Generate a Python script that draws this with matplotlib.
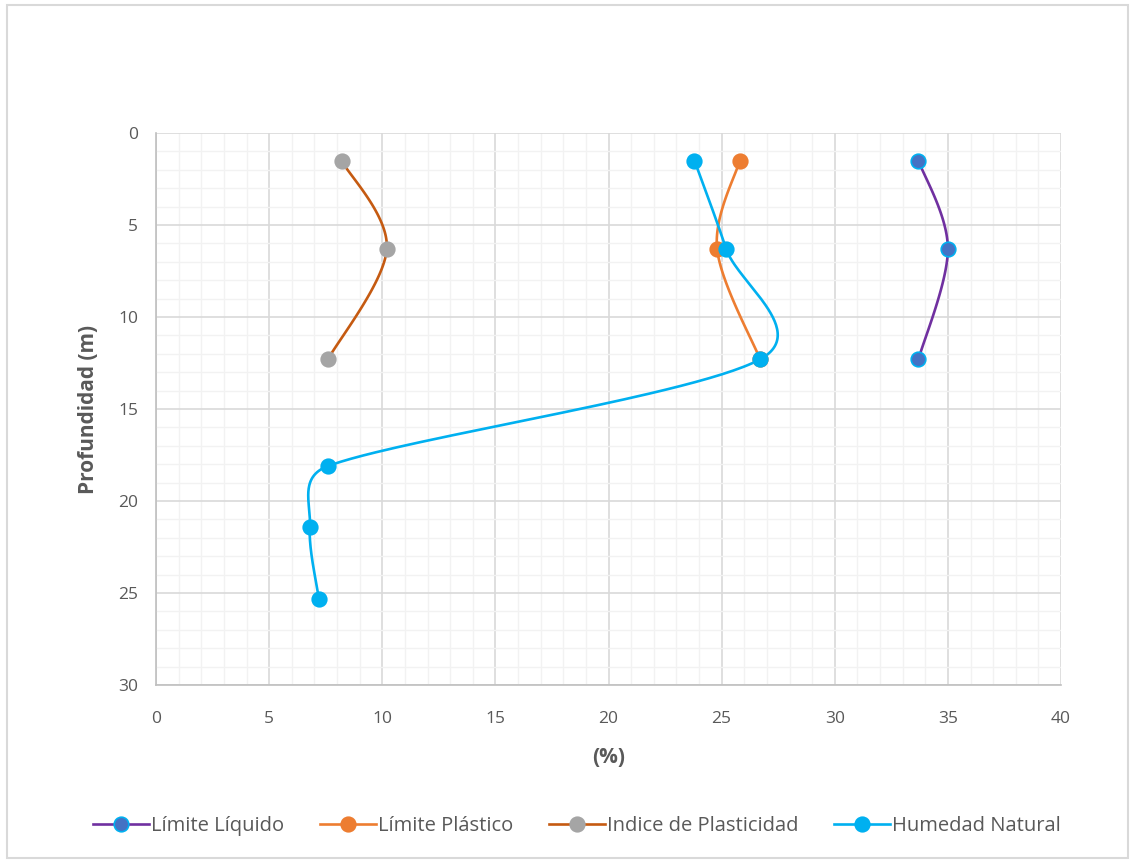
import numpy as np
import matplotlib
matplotlib.use("Agg")
import matplotlib.pyplot as plt
from matplotlib.lines import Line2D
from matplotlib.patches import Rectangle
from matplotlib.ticker import MultipleLocator

plt.rcParams['font.family'] = ['Open Sans', 'DejaVu Sans']

# Depth profile data (depth in m, values in %)
prof_limites = [1.5, 6.3, 12.3]
limite_liquido = [33.7, 35.0, 33.7]
limite_plastico = [25.8, 24.8, 26.7]
indice_plasticidad = [8.2, 10.2, 7.6]

prof_humedad = [1.5, 6.3, 12.3, 18.1, 21.4, 25.3]
humedad_natural = [23.8, 25.2, 26.7, 7.6, 6.8, 7.2]

series_names = ["Límite Líquido", "Límite Plástico", "Indice de Plasticidad", "Humedad Natural"]
line_colors = ["#7030A0", "#ED7D31", "#C55A11", "#00B0F0"]
marker_colors = ["#4472C4", "#ED7D31", "#A5A5A5", "#00B0F0"]
marker_edges = ["#00B0F0", "#ED7D31", "#A5A5A5", "#00B0F0"]

XMAX, YMAX = 40, 30


def smooth(xs, ys, sx=22.6, sy=18.4, n=60):
    """Smoothed polyline through the points with cubic Bezier segments.

    Tangents follow the neighbouring chord (Catmull-Rom), with the control
    handles limited to half of the segment length to avoid overshoot.
    """
    p = np.column_stack([np.asarray(xs) * sx, np.asarray(ys) * sy])
    m = len(p)

    def handle(i, seg_len):
        prev_p = p[i - 1] if i > 0 else p[i]
        next_p = p[i + 1] if i + 1 < m else p[i]
        chord = next_p - prev_p
        L = np.hypot(*chord)
        if L == 0:
            return np.zeros(2)
        d = min(L / 6.0, 0.5 * seg_len)
        return chord / L * d

    out = [p[0]]
    t = np.linspace(0, 1, n)[1:, None]
    for i in range(m - 1):
        p1, p2 = p[i], p[i + 1]
        seg = np.hypot(*(p2 - p1))
        c1 = p1 + handle(i, seg)
        c2 = p2 - handle(i + 1, seg)
        pts = ((1 - t) ** 3) * p1 + 3 * ((1 - t) ** 2) * t * c1 + 3 * (1 - t) * t ** 2 * c2 + t ** 3 * p2
        out.extend(pts)
    out = np.array(out)
    return out[:, 0] / sx, out[:, 1] / sy


fig = plt.figure(figsize=(11.31, 8.61), dpi=100)
fig.add_artist(Rectangle((7 / 1131, 1 - 858 / 861), 1121 / 1131, 853 / 861,
                         transform=fig.transFigure, fill=False,
                         edgecolor="#D9D9D9", linewidth=1.5))

ax = fig.add_axes([156 / 1131, 1 - 685 / 861, 905 / 1131, 552 / 861])
ax.set_xlim(0, XMAX)
ax.set_ylim(YMAX, 0)
ax.xaxis.set_major_locator(MultipleLocator(5))
ax.xaxis.set_minor_locator(MultipleLocator(1))
ax.yaxis.set_major_locator(MultipleLocator(5))
ax.yaxis.set_minor_locator(MultipleLocator(1))
ax.grid(which="minor", color="#F2F2F2", linewidth=1.0)
ax.grid(which="major", color="#D9D9D9", linewidth=1.2)
ax.set_axisbelow(True)
for side in ["top", "right"]:
    ax.spines[side].set_visible(False)
for side in ["left", "bottom"]:
    ax.spines[side].set_color("#BFBFBF")
    ax.spines[side].set_linewidth(1.2)
ax.tick_params(which="both", length=0, labelsize=12.5, labelcolor="#595959")
ax.tick_params(axis="x", pad=19)
ax.tick_params(axis="y", pad=13)

ax.set_xlabel("(%)", fontsize=15, fontweight="bold", color="#595959", labelpad=14)
ax.set_ylabel("Profundidad (m)", fontsize=15, fontweight="bold", color="#595959", labelpad=14)

data = [
    (limite_liquido, prof_limites),
    (limite_plastico, prof_limites),
    (indice_plasticidad, prof_limites),
    (humedad_natural, prof_humedad),
]

handles = []
for (xs, ys), name, lc, mc, me in zip(data, series_names, line_colors, marker_colors, marker_edges):
    sx, sy = smooth(xs, ys)
    ax.plot(sx, sy, color=lc, linewidth=1.9, solid_capstyle="round", zorder=3)
    ax.plot(xs, ys, linestyle="none", marker="o", markersize=10.5,
            markerfacecolor=mc, markeredgecolor=me, markeredgewidth=1.2, zorder=4)
    handles.append(Line2D([0], [0], color=lc, linewidth=1.9, marker="o", markersize=10.5,
                          markerfacecolor=mc, markeredgecolor=me, markeredgewidth=1.2))

fig.legend(handles, series_names, loc="center", bbox_to_anchor=(577 / 1131, 1 - 826 / 861),
           ncol=4, frameon=False, fontsize=14.5, labelcolor="#595959",
           handlelength=2.8, handletextpad=0.1, columnspacing=1.75)

fig.savefig("out.png", dpi=100, facecolor="white")
